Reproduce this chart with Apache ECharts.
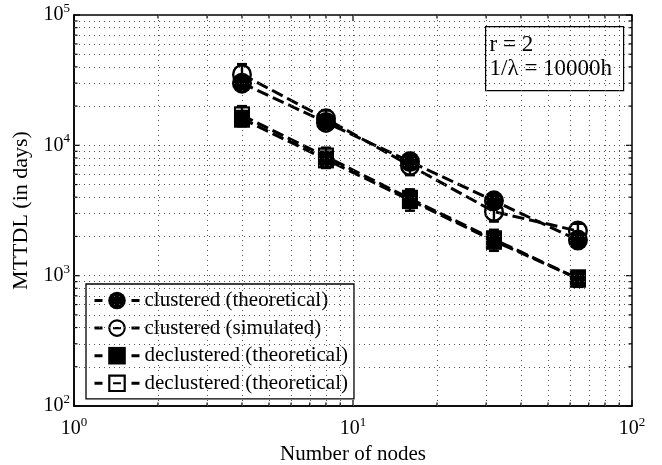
<!DOCTYPE html>
<html>
<head>
<meta charset="utf-8">
<script src="https://cdn.jsdelivr.net/npm/echarts@6/dist/echarts.min.js"></script>
<style>
  html, body { margin: 0; padding: 0; background: #fff; }
  #main { width: 662px; height: 465px; }
</style>
</head>
<body>
<div id="main"></div>
<script>
// data
var nodes = [4, 8, 16, 32, 64];
var clusteredTheo = [30000, 15000, 7500, 3750, 1875];
var clusteredSim = [35000, 16000, 7000, 3100, 2200];
var clusteredSimLow = [29000, 13500, 5900, 2600, 1900];
var clusteredSimHigh = [42000, 18500, 8300, 3700, 2500];
var declusteredTheo = [16000, 7800, 3800, 1850, 950];
var declusteredSim = [17000, 8200, 3900, 1900, 950];
var declusteredSimLow = [14000, 6700, 3150, 1550, 820];
var declusteredSimHigh = [20000, 9600, 4600, 2250, 1080];
// the 4th label repeats the 3rd in the original; zero-width space keeps the legend entry separate
var seriesNames = ['clustered (theoretical)', 'clustered (simulated)', 'declustered (theoretical)', 'declustered (theoretical)\u200b'];
var xTicks = [1, 2, 3, 4, 5, 6, 7, 8, 9, 10, 20, 30, 40, 50, 60, 70, 80, 90, 100];
var yTicks = [100, 200, 300, 400, 500, 600, 700, 800, 900, 1000, 2000, 3000, 4000, 5000, 6000, 7000, 8000, 9000,
  10000, 20000, 30000, 40000, 50000, 60000, 70000, 80000, 90000, 100000];
var noteLines = ['r = 2', '1/\u03bb = 10000h'];

var FONT = 'Liberation Serif';
var ringCircle = 'path://M0,10A10,10 0 1,1 20,10A10,10 0 1,1 0,10ZM2.4,10A7.6,7.6 0 1,0 17.6,10A7.6,7.6 0 1,0 2.4,10Z';
var ringCircleDash = ringCircle + 'M5.5,8.8H14.5V11.2H5.5Z';
var ringSquare = 'path://M0,0H20V20H0ZM2.5,2.5V17.5H17.5V2.5Z';
var ringSquareDash = ringSquare + 'M5.5,8.8H14.5V11.2H5.5Z';

function pairs(xs, ys) { return xs.map(function (x, i) { return [x, ys[i]]; }); }
function triples(xs, lo, hi) { return xs.map(function (x, i) { return [x, lo[i], hi[i]]; }); }
function isMajor(v) { var e = Math.log10(v); return Math.abs(e - Math.round(e)) < 1e-9; }

var dash = { color: '#000', width: 3, type: [12, 5] };
var legendDash = { color: '#000', width: 3, type: [8, 29] };

function errBar(params, api) {
  var x = api.value(0);
  var lo = api.coord([x, api.value(1)]);
  var hi = api.coord([x, api.value(2)]);
  var w = 5;
  var st = { stroke: '#000', lineWidth: 2.4 };
  return {
    type: 'group',
    children: [
      { type: 'line', shape: { x1: lo[0], y1: lo[1], x2: hi[0], y2: hi[1] }, style: st },
      { type: 'line', shape: { x1: hi[0] - w, y1: hi[1], x2: hi[0] + w, y2: hi[1] }, style: st },
      { type: 'line', shape: { x1: lo[0] - w, y1: lo[1], x2: lo[0] + w, y2: lo[1] }, style: st }
    ]
  };
}

function powLabel(v) { return '{b|10}{e|' + Math.round(Math.log10(v)) + '}'; }
var powRich = {
  b: { fontFamily: FONT, fontSize: 20, color: '#000', verticalAlign: 'bottom', padding: [0, 0, 3, 0] },
  e: { fontFamily: FONT, fontSize: 13, color: '#000', verticalAlign: 'bottom', padding: [0, 0, 13, 0] }
};

var gridDots = { color: '#555', width: 1, type: [1, 4] };

// legend-only entries (no data) so the key shows "- marker -" like the original
function legendEntry(name, symbol, size) {
  return { name: name, type: 'line', data: [], symbol: symbol, symbolSize: size, lineStyle: legendDash, itemStyle: { color: '#000' } };
}

var chart = echarts.init(document.getElementById('main'));
var option = {
  animation: false,
  backgroundColor: '#fff',
  grid: {
    left: 74, right: 30, top: 15, bottom: 59, outerBoundsMode: 'none',
    show: true, borderColor: '#000', borderWidth: 1.5, backgroundColor: 'transparent'
  },
  xAxis: {
    type: 'log', logBase: 10, min: 1, max: 100,
    name: 'Number of nodes', nameLocation: 'middle', nameGap: 35,
    nameTextStyle: { fontFamily: FONT, fontSize: 21, color: '#000' },
    axisLine: { lineStyle: { color: '#000', width: 1.5 } },
    axisTick: { show: false },
    splitLine: { show: false },
    axisLabel: { formatter: powLabel, rich: powRich, margin: 10 }
  },
  yAxis: {
    type: 'log', logBase: 10, min: 100, max: 100000,
    name: 'MTTDL (in days)', nameLocation: 'middle', nameGap: 35,
    nameTextStyle: { fontFamily: FONT, fontSize: 22, color: '#000' },
    axisLine: { lineStyle: { color: '#000', width: 1.5 } },
    axisTick: { show: false },
    splitLine: { show: false },
    axisLabel: { formatter: powLabel, rich: powRich, margin: 4 }
  },
  legend: {
    orient: 'vertical', left: 86, top: 284,
    backgroundColor: '#fff', borderColor: '#000', borderWidth: 1.3,
    padding: [6, 6, 5, 7], itemGap: 6.6, itemWidth: 45, itemHeight: 22,
    selectedMode: false,
    lineStyle: { width: 3 },
    textStyle: { fontFamily: FONT, fontSize: 21, color: '#000' },
    data: seriesNames
  },
  series: [
    {
      name: 'grid', type: 'line', data: [], silent: true,
      markLine: {
        silent: true, symbol: 'none', label: { show: false }, lineStyle: gridDots, animation: false,
        data: xTicks.filter(function (v) { return v > 1 && v < 100; }).map(function (v) { return { xAxis: v }; })
          .concat(yTicks.filter(function (v) { return v > 100 && v < 100000; }).map(function (v) { return { yAxis: v }; }))
      }
    },
    legendEntry(seriesNames[0], 'circle', 18),
    legendEntry(seriesNames[1], ringCircleDash, 18),
    legendEntry(seriesNames[2], 'rect', 16),
    legendEntry(seriesNames[3], ringSquareDash, 14),
    {
      name: 'ct', type: 'line', data: pairs(nodes, clusteredTheo),
      symbol: 'circle', symbolSize: [20, 21], lineStyle: dash, itemStyle: { color: '#000' }, z: 3
    },
    {
      name: 'dt', type: 'line', data: pairs(nodes, declusteredTheo),
      symbol: 'rect', symbolSize: [16, 18], lineStyle: dash, itemStyle: { color: '#000' }, z: 3
    },
    {
      name: 'cs', type: 'line', data: pairs(nodes, clusteredSim),
      symbol: ringCircle, symbolSize: [20, 21], lineStyle: dash, itemStyle: { color: '#000' }, z: 4
    },
    {
      name: 'ds', type: 'line', data: pairs(nodes, declusteredSim),
      symbol: ringSquare, symbolSize: [16, 18], lineStyle: dash, itemStyle: { color: '#000' }, z: 4
    },
    { name: 'errC', type: 'custom', renderItem: errBar, data: triples(nodes, clusteredSimLow, clusteredSimHigh), encode: { x: 0, y: [1, 2] }, z: 5, silent: true },
    { name: 'errD', type: 'custom', renderItem: errBar, data: triples(nodes, declusteredSimLow, declusteredSimHigh), encode: { x: 0, y: [1, 2] }, z: 5, silent: true }
  ]
};
chart.setOption(option);

// inside tick marks on all four sides, placed through the axes' own scales
var x0 = chart.convertToPixel({ xAxisIndex: 0 }, 1);
var x1 = chart.convertToPixel({ xAxisIndex: 0 }, 100);
var yB = chart.convertToPixel({ yAxisIndex: 0 }, 100);
var yT = chart.convertToPixel({ yAxisIndex: 0 }, 100000);
var tickEls = [];
var tk = { stroke: '#000', lineWidth: 1.2 };
xTicks.forEach(function (v) {
  var px = chart.convertToPixel({ xAxisIndex: 0 }, v);
  var len = isMajor(v) ? 6 : 3.5;
  tickEls.push({ type: 'line', shape: { x1: px, y1: yB, x2: px, y2: yB - len }, style: tk, silent: true });
  tickEls.push({ type: 'line', shape: { x1: px, y1: yT, x2: px, y2: yT + len }, style: tk, silent: true });
});
yTicks.forEach(function (v) {
  var py = chart.convertToPixel({ yAxisIndex: 0 }, v);
  var len = isMajor(v) ? 6 : 3.5;
  tickEls.push({ type: 'line', shape: { x1: x0, y1: py, x2: x0 + len, y2: py }, style: tk, silent: true });
  tickEls.push({ type: 'line', shape: { x1: x1, y1: py, x2: x1 - len, y2: py }, style: tk, silent: true });
});

var noteFont = '23px "' + FONT + '"';
chart.setOption({
  graphic: [
    { type: 'group', children: tickEls, z: 10 },
    {
      type: 'group', left: 485, top: 26, z: 20,
      children: [
        { type: 'rect', shape: { x: 0, y: 0, width: 138, height: 64 }, style: { fill: '#fff', stroke: '#000', lineWidth: 1.2 } },
        { type: 'text', x: 4, y: 18, style: { text: noteLines[0], font: noteFont, fill: '#000', verticalAlign: 'middle' } },
        { type: 'text', x: 4, y: 42, style: { text: noteLines[1], font: noteFont, fill: '#000', verticalAlign: 'middle' } }
      ]
    }
  ]
});
</script>
</body>
</html>
